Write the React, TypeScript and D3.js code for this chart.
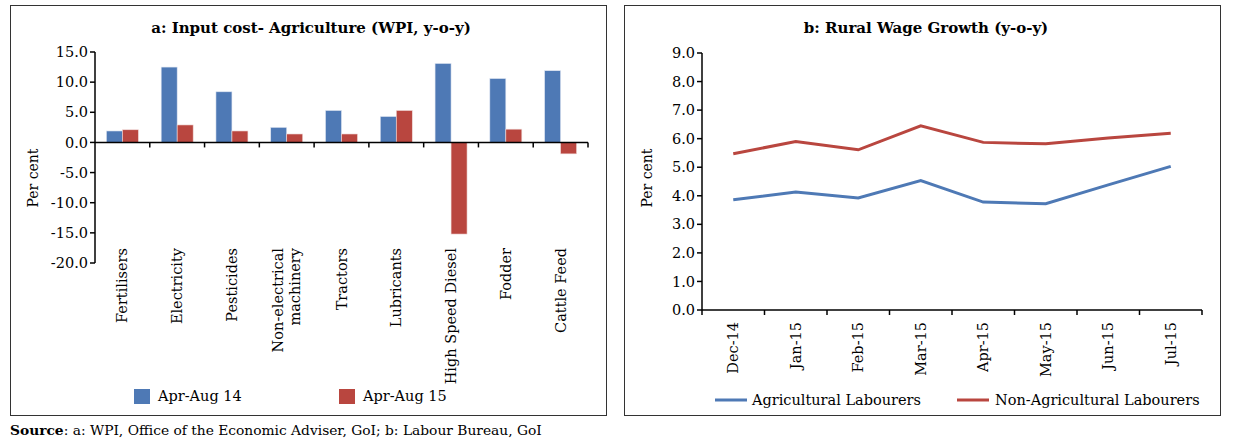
import React from "react";
import * as d3 from "d3";

const categories = ["Fertilisers", "Electricity", "Pesticides", "Non-electrical machinery", "Tractors", "Lubricants", "High Speed Diesel", "Fodder", "Cattle Feed"];
const aprAug14 = [1.9, 12.5, 8.4, 2.5, 5.3, 4.3, 13.1, 10.6, 11.9];
const aprAug15 = [2.1, 2.9, 1.9, 1.4, 1.4, 5.3, -15.2, 2.2, -1.9];
const barTicks = [15, 10, 5, 0, -5, -10, -15, -20];

const months = ["Dec-14", "Jan-15", "Feb-15", "Mar-15", "Apr-15", "May-15", "Jun-15", "Jul-15"];
const agriLab = [3.86, 4.13, 3.92, 4.53, 3.78, 3.72, 4.38, 5.03];
const nonAgriLab = [5.47, 5.9, 5.61, 6.45, 5.87, 5.82, 6.02, 6.19];
const lineTicks = [0, 1, 2, 3, 4, 5, 6, 7, 8, 9];

const BLUE = "#4E79B5";
const RED = "#B9463F";
const FONT = "'DejaVu Serif', serif";
const TICK_FS = 14.5;
const CAT_FS = 14.5;
const LEG_FS = 14.5;

function BarPanel() {
  const x0 = 95, x1 = 588, yTop = 52, yBot = 263;
  const x = d3.scaleBand<string>().domain(categories).range([x0, x1]).paddingInner(0).paddingOuter(0);
  const y = d3.scaleLinear().domain([-20, 15]).range([yBot, yTop]);
  const bw = 16;
  const zero = y(0);
  return (
    <g>
      <rect x={10.5} y={5.5} width={596} height={410} fill="white" stroke="#333" strokeWidth={1} />
      <text x={311} y={33} textAnchor="middle" fontFamily={FONT} fontWeight="bold" fontSize={15}>a: Input cost- Agriculture (WPI, y-o-y)</text>
      {categories.map((c, i) => {
        const cx = x(c)! + x.bandwidth() / 2;
        const v1 = aprAug14[i], v2 = aprAug15[i];
        return (
          <g key={c}>
            <rect x={cx - bw} y={Math.min(y(v1), zero)} width={bw} height={Math.abs(y(v1) - zero)} fill={BLUE} stroke="#dfe6f2" strokeWidth={0.6} />
            <rect x={cx} y={Math.min(y(v2), zero)} width={bw} height={Math.abs(y(v2) - zero)} fill={RED} stroke="#f0dcdb" strokeWidth={0.6} />
          </g>
        );
      })}
      <line x1={x0} x2={x0} y1={yTop} y2={yBot} stroke="black" strokeWidth={1.5} />
      {barTicks.map((t) => (
        <g key={t}>
          <line x1={x0 - 5} x2={x0} y1={y(t)} y2={y(t)} stroke="black" strokeWidth={1.5} />
          <text x={x0 - 7} y={y(t)} dy="0.35em" textAnchor="end" fontFamily={FONT} fontSize={TICK_FS}>{t.toFixed(1)}</text>
        </g>
      ))}
      <line x1={x0} x2={x1} y1={zero} y2={zero} stroke="black" strokeWidth={1.5} />
      {categories.map((c) => (
        <line key={c} x1={x(c)! + x.bandwidth()} x2={x(c)! + x.bandwidth()} y1={zero} y2={zero + 5} stroke="black" strokeWidth={1.5} />
      ))}
      {categories.map((c) => {
        const cx = x(c)! + x.bandwidth() / 2;
        const lines = c === "Non-electrical machinery" ? ["Non-electrical", "machinery"] : [c];
        return (
          <text key={c} transform={`translate(${cx},248) rotate(-90)`} textAnchor="end" fontFamily={FONT} fontSize={CAT_FS}>
            {lines.map((l, k) => (
              <tspan key={l} x={0} dy={k === 0 ? (lines.length > 1 ? "-0.25em" : "0.35em") : "1.2em"}>{l}</tspan>
            ))}
          </text>
        );
      })}
      <text transform={`translate(38,178) rotate(-90)`} textAnchor="middle" fontFamily={FONT} fontSize={14}>Per cent</text>
      <rect x={134} y={389} width={16} height={15} fill={BLUE} />
      <text x={158} y={396} dy="0.35em" fontFamily={FONT} fontSize={LEG_FS}>Apr-Aug 14</text>
      <rect x={339} y={389} width={16} height={15} fill={RED} />
      <text x={363} y={396} dy="0.35em" fontFamily={FONT} fontSize={LEG_FS}>Apr-Aug 15</text>
    </g>
  );
}

function LinePanel() {
  const x0 = 702, x1 = 1202, yTop = 53, yBot = 310;
  const x = d3.scaleBand<string>().domain(months).range([x0, x1]);
  const y = d3.scaleLinear().domain([0, 9]).range([yBot, yTop]);
  const cx = (m: string) => x(m)! + x.bandwidth() / 2;
  const line = d3.line<number>().x((_, i) => cx(months[i])).y((v) => y(v));
  return (
    <g>
      <rect x={624.5} y={5.5} width={596} height={410} fill="white" stroke="#333" strokeWidth={1} />
      <text x={926} y={33} textAnchor="middle" fontFamily={FONT} fontWeight="bold" fontSize={15}>b: Rural Wage Growth (y-o-y)</text>
      <path d={line(nonAgriLab)!} fill="none" stroke={RED} strokeWidth={3} />
      <path d={line(agriLab)!} fill="none" stroke={BLUE} strokeWidth={3} />
      <line x1={x0} x2={x0} y1={yTop} y2={yBot} stroke="black" strokeWidth={1.5} />
      {lineTicks.map((t) => (
        <g key={t}>
          <line x1={x0 - 5} x2={x0} y1={y(t)} y2={y(t)} stroke="black" strokeWidth={1.5} />
          <text x={x0 - 7} y={y(t)} dy="0.35em" textAnchor="end" fontFamily={FONT} fontSize={TICK_FS}>{t.toFixed(1)}</text>
        </g>
      ))}
      <line x1={x0} x2={x1} y1={yBot} y2={yBot} stroke="black" strokeWidth={1.5} />
      {months.map((m) => (
        <line key={m} x1={x(m)! + x.bandwidth()} x2={x(m)! + x.bandwidth()} y1={yBot} y2={yBot + 5} stroke="black" strokeWidth={1.5} />
      ))}
      <line x1={x0} x2={x0} y1={yBot} y2={yBot + 5} stroke="black" strokeWidth={1.5} />
      {months.map((m) => (
        <text key={m} transform={`translate(${cx(m)},322) rotate(-90)`} textAnchor="end" dy="0.35em" fontFamily={FONT} fontSize={CAT_FS}>{m}</text>
      ))}
      <text transform={`translate(652,178) rotate(-90)`} textAnchor="middle" fontFamily={FONT} fontSize={14}>Per cent</text>
      <line x1={715} x2={747} y1={400} y2={400} stroke={BLUE} strokeWidth={3} />
      <text x={752} y={400} dy="0.35em" fontFamily={FONT} fontSize={LEG_FS}>Agricultural Labourers</text>
      <line x1={957} x2={989} y1={400} y2={400} stroke={RED} strokeWidth={3} />
      <text x={995} y={400} dy="0.35em" fontFamily={FONT} fontSize={LEG_FS}>Non-Agricultural Labourers</text>
    </g>
  );
}

export default function App() {
  return (
    <svg width={1235} height={440} style={{ position: "absolute", left: 0, top: 0, background: "white" }}>
      <rect width={1235} height={440} fill="white" />
      <BarPanel />
      <LinePanel />
      <text x={10} y={435} fontFamily={FONT} fontSize={13.8}>
        <tspan fontWeight="bold">Source</tspan>: a: WPI, Office of the Economic Adviser, GoI; b: Labour Bureau, GoI
      </text>
    </svg>
  );
}
